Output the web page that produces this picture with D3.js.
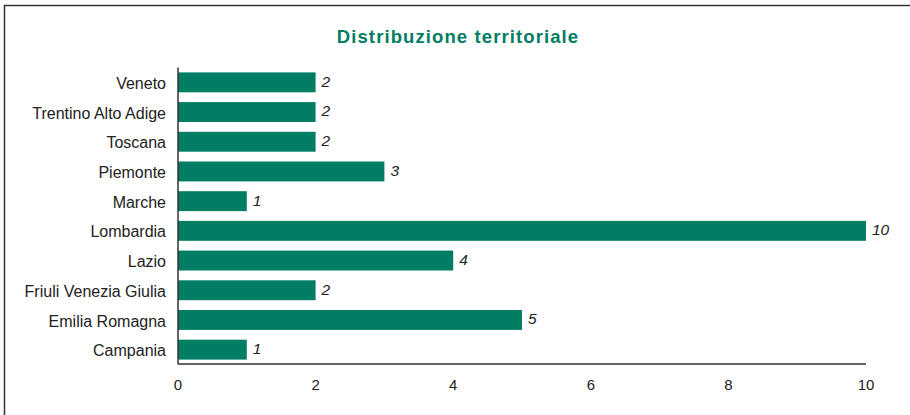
<!DOCTYPE html>
<html>
<head>
<meta charset="utf-8">
<script src="https://cdn.jsdelivr.net/npm/d3@7"></script>
<style>
  body { margin: 0; background: #fff; }
  svg { font-family: "Liberation Sans", Arial, sans-serif; }
</style>
</head>
<body>
<script>
// data
var regions = ["Veneto", "Trentino Alto Adige", "Toscana", "Piemonte", "Marche",
               "Lombardia", "Lazio", "Friuli Venezia Giulia", "Emilia Romagna", "Campania"];
var counts = [2, 2, 2, 3, 1, 10, 4, 2, 5, 1];
var xTicks = [0, 2, 4, 6, 8, 10];

var width = 910, height = 415;
var green = "#007d62";

var svg = d3.select("body").append("svg")
    .attr("width", width)
    .attr("height", height);

// frame
svg.append("rect")
    .attr("x", 4.5).attr("y", 5.5)
    .attr("width", 920).attr("height", 430)
    .attr("fill", "none")
    .attr("stroke", "#333")
    .attr("stroke-width", 1.5);

// title
svg.append("text")
    .attr("x", 458).attr("y", 43)
    .attr("text-anchor", "middle")
    .attr("fill", green)
    .style("font-size", "18.5px")
    .style("font-weight", "bold")
    .style("letter-spacing", "1.1px")
    .text("Distribuzione territoriale");

var x = d3.scaleLinear().domain([0, 10]).range([178, 866]);
var y = d3.scaleBand().domain(regions).range([67.5, 364.5]).paddingInner(0.33).paddingOuter(0.165);

// bars
svg.selectAll(".bar")
    .data(regions)
  .enter().append("rect")
    .attr("class", "bar")
    .attr("x", x(0))
    .attr("y", function(d) { return y(d); })
    .attr("width", function(d, i) { return x(counts[i]) - x(0); })
    .attr("height", y.bandwidth())
    .attr("fill", green);

// value labels
svg.selectAll(".val")
    .data(regions)
  .enter().append("text")
    .attr("class", "val")
    .attr("x", function(d, i) { return x(counts[i]) + 6; })
    .attr("y", function(d) { return y(d) + y.bandwidth() / 2 - 1; })
    .attr("dy", "0.35em")
    .attr("fill", "#222")
    .style("font-size", "15.5px")
    .style("font-style", "italic")
    .text(function(d, i) { return counts[i]; });

// category labels
svg.selectAll(".cat")
    .data(regions)
  .enter().append("text")
    .attr("class", "cat")
    .attr("x", 166)
    .attr("y", function(d) { return y(d) + y.bandwidth() / 2 + 1; })
    .attr("dy", "0.35em")
    .attr("text-anchor", "end")
    .attr("fill", "#222")
    .style("font-size", "16px")
    .text(function(d) { return d; });

// axes lines
svg.append("line")
    .attr("x1", x(0)).attr("x2", x(0))
    .attr("y1", 67.5).attr("y2", 364)
    .attr("stroke", "#333").attr("stroke-width", 1.5);
svg.append("line")
    .attr("x1", x(0)).attr("x2", x(10))
    .attr("y1", 364).attr("y2", 364)
    .attr("stroke", "#333").attr("stroke-width", 1.5);

// tick labels
svg.selectAll(".tick")
    .data(xTicks)
  .enter().append("text")
    .attr("class", "tick")
    .attr("x", function(d) { return x(d); })
    .attr("y", 385)
    .attr("dy", "0.35em")
    .attr("text-anchor", "middle")
    .attr("fill", "#222")
    .style("font-size", "15px")
    .text(function(d) { return d; });
</script>
</body>
</html>
